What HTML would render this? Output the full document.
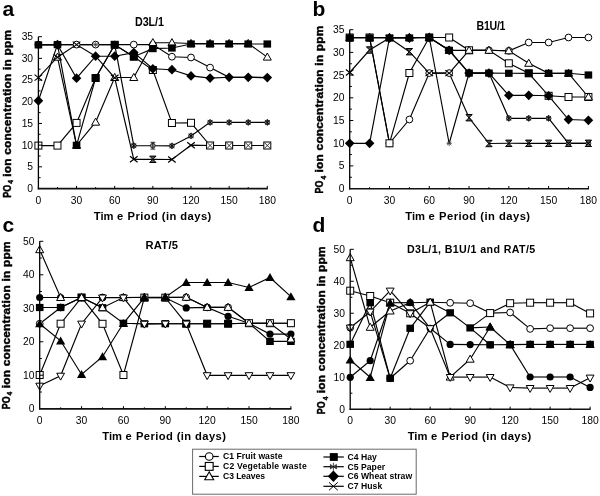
<!DOCTYPE html><html><head><meta charset="utf-8"><style>html,body{margin:0;padding:0;background:#fff;width:600px;height:496px;overflow:hidden}svg{display:block;filter:grayscale(1)}text{font-family:"Liberation Sans", sans-serif;fill:#000}</style></head><body><svg width="600" height="496" viewBox="0 0 600 496"><rect width="600" height="496" fill="#fff"/><text transform="translate(2.6 15.6) scale(1.0 1)" font-size="21" font-weight="bold" text-anchor="start">a</text><text transform="translate(312.6 16) scale(1.0 1)" font-size="21" font-weight="bold" text-anchor="start">b</text><text transform="translate(2.6 232.4) scale(1.0 1)" font-size="21" font-weight="bold" text-anchor="start">c</text><text transform="translate(312.6 232.4) scale(1.0 1)" font-size="21" font-weight="bold" text-anchor="start">d</text><text transform="translate(135 26) scale(0.88 1)" font-size="12.2" font-weight="bold" text-anchor="start" textLength="32.95" lengthAdjust="spacing">D3L/1</text><text transform="translate(476.5 30.2) scale(0.88 1)" font-size="12" font-weight="bold" text-anchor="start" textLength="32.95" lengthAdjust="spacing">B1U/1</text><text transform="translate(145.5 248.5) scale(0.95 1)" font-size="11.8" font-weight="bold" text-anchor="start" textLength="34.21" lengthAdjust="spacing">RAT/5</text><text transform="translate(407 253.4) scale(0.92 1)" font-size="11.6" font-weight="bold" text-anchor="start" textLength="139.46" lengthAdjust="spacing">D3L/1, B1U/1 and RAT/5</text><text transform="translate(93.8 219.5) scale(0.95 1)" font-size="11.8" font-weight="bold">Tim</text><text transform="translate(117.1 219.5) scale(0.95 1)" font-size="11.8" font-weight="bold">e</text><text transform="translate(127.5 219.5) scale(0.95 1)" font-size="11.8" font-weight="bold" textLength="88.21" lengthAdjust="spacing">Priod (in days)</text><text transform="translate(405.3 220) scale(0.95 1)" font-size="11.8" font-weight="bold">Tim</text><text transform="translate(428.6 220) scale(0.95 1)" font-size="11.8" font-weight="bold">e</text><text transform="translate(439 220) scale(0.95 1)" font-size="11.8" font-weight="bold" textLength="95.89" lengthAdjust="spacing">Period (in days)</text><text transform="translate(102.3 440.3) scale(0.95 1)" font-size="11.8" font-weight="bold">Tim</text><text transform="translate(125.6 440.3) scale(0.95 1)" font-size="11.8" font-weight="bold">e</text><text transform="translate(136 440.3) scale(0.95 1)" font-size="11.8" font-weight="bold" textLength="94.63" lengthAdjust="spacing">Period (in days)</text><text transform="translate(407.7 440.3) scale(0.95 1)" font-size="11.8" font-weight="bold">Tim</text><text transform="translate(431 440.3) scale(0.95 1)" font-size="11.8" font-weight="bold">e</text><text transform="translate(441.4 440.3) scale(0.95 1)" font-size="11.8" font-weight="bold" textLength="94.63" lengthAdjust="spacing">Period (in days)</text><text transform="translate(10.6 197.7) rotate(-90) scale(0.76 1)" font-size="11.8" font-weight="bold" stroke="#000" stroke-width="0.45">PO</text><text transform="translate(13.2 183.8) rotate(-90) scale(0.9 1)" font-size="7.4" font-weight="bold" stroke="#000" stroke-width="0.45">4</text><text transform="translate(10.6 176.7) rotate(-90)" font-size="11.8" font-weight="bold" stroke="#000" stroke-width="0.45" textLength="146.7" lengthAdjust="spacing">ion concentration in ppm</text><text transform="translate(323 193.4) rotate(-90) scale(0.76 1)" font-size="11.8" font-weight="bold" stroke="#000" stroke-width="0.45">PO</text><text transform="translate(325.6 179.5) rotate(-90) scale(0.9 1)" font-size="7.4" font-weight="bold" stroke="#000" stroke-width="0.45">4</text><text transform="translate(323 172.4) rotate(-90)" font-size="11.8" font-weight="bold" stroke="#000" stroke-width="0.45" textLength="146.7" lengthAdjust="spacing">ion concentration in ppm</text><text transform="translate(9.7 409.3) rotate(-90) scale(0.76 1)" font-size="11.8" font-weight="bold" stroke="#000" stroke-width="0.45">PO</text><text transform="translate(12.3 395.4) rotate(-90) scale(0.9 1)" font-size="7.4" font-weight="bold" stroke="#000" stroke-width="0.45">4</text><text transform="translate(9.7 388.3) rotate(-90)" font-size="11.8" font-weight="bold" stroke="#000" stroke-width="0.45" textLength="146.7" lengthAdjust="spacing">ion concentration in ppm</text><text transform="translate(325.2 414.2) rotate(-90) scale(0.76 1)" font-size="11.8" font-weight="bold" stroke="#000" stroke-width="0.45">PO</text><text transform="translate(327.8 400.3) rotate(-90) scale(0.9 1)" font-size="7.4" font-weight="bold" stroke="#000" stroke-width="0.45">4</text><text transform="translate(325.2 393.2) rotate(-90)" font-size="11.8" font-weight="bold" stroke="#000" stroke-width="0.45" textLength="146.7" lengthAdjust="spacing">ion concentration in ppm</text><text x="33.1" y="191.9" text-anchor="end" font-size="10.3">0</text><text x="33.1" y="170.21" text-anchor="end" font-size="10.3">5</text><text x="33.1" y="148.53" text-anchor="end" font-size="10.3">10</text><text x="33.1" y="126.84" text-anchor="end" font-size="10.3">15</text><text x="33.1" y="105.16" text-anchor="end" font-size="10.3">20</text><text x="33.1" y="83.47" text-anchor="end" font-size="10.3">25</text><text x="33.1" y="61.79" text-anchor="end" font-size="10.3">30</text><text x="33.1" y="40.1" text-anchor="end" font-size="10.3">35</text><text x="38.4" y="203.5" text-anchor="middle" font-size="10.3">0</text><text x="76.55" y="203.5" text-anchor="middle" font-size="10.3">30</text><text x="114.7" y="203.5" text-anchor="middle" font-size="10.3">60</text><text x="152.85" y="203.5" text-anchor="middle" font-size="10.3">90</text><text x="191" y="203.5" text-anchor="middle" font-size="10.3">120</text><text x="229.15" y="203.5" text-anchor="middle" font-size="10.3">150</text><text x="267.3" y="203.5" text-anchor="middle" font-size="10.3">180</text><polyline points="38.4,44.6 57.47,44.6 76.55,44.6 95.62,44.6 114.7,44.6 133.78,44.6 152.85,44.6 171.93,56.7 191,57.5 210.08,67.6 229.15,77.3 248.23,77.3 267.3,77.6" fill="none" stroke="#000" stroke-width="1.15"/><polyline points="38.4,145.6 57.47,145.6 76.55,122.9 95.62,78 114.7,44.8 133.78,56.7 152.85,70 171.93,123 191,122.8 210.08,145.5 229.15,145.5 248.23,145.5 267.3,145.5" fill="none" stroke="#000" stroke-width="1.15"/><polyline points="57.47,57.2 76.55,145.3 95.62,122.2 114.7,77.5 133.78,77.5 152.85,42.7 171.93,42.7 191,43.5 210.08,43.5 229.15,43.5 248.23,43.5 267.3,57.1" fill="none" stroke="#000" stroke-width="1.15"/><polyline points="38.4,44.9 57.47,44.6 76.55,145.3 95.62,78 114.7,44.8 133.78,56.7 152.85,48.6 171.93,48 191,44 210.08,44 229.15,44 248.23,44 267.3,44" fill="none" stroke="#000" stroke-width="1.15"/><polyline points="38.4,44.6 57.47,44.6 76.55,44.6 95.62,44.6 114.7,44.6 133.78,145.7 152.85,145.7 171.93,145.9 191,135.9 210.08,122.4 229.15,122.4 248.23,122.4 267.3,122.4" fill="none" stroke="#000" stroke-width="1.15"/><polyline points="38.4,100.75 57.47,44.6 76.55,78.2 95.62,56.2 114.7,56.2 133.78,52.6 152.85,68.8 171.93,69.7 191,75.9 210.08,78.1 229.15,77.3 248.23,77.3 267.3,77.6" fill="none" stroke="#000" stroke-width="1.15"/><polyline points="38.4,77.6 57.47,57.2 76.55,44.6 95.62,56.2 114.7,77.8 133.78,159.3 152.85,159.3 171.93,159.5 191,145.2 210.08,145.5 229.15,145.5 248.23,145.5 267.3,145.5" fill="none" stroke="#000" stroke-width="1.15"/><circle cx="38.4" cy="44.6" r="3.4" fill="#fff" stroke="#000" stroke-width="1"/><circle cx="57.47" cy="44.6" r="3.4" fill="#fff" stroke="#000" stroke-width="1"/><circle cx="76.55" cy="44.6" r="3.4" fill="#fff" stroke="#000" stroke-width="1"/><circle cx="95.62" cy="44.6" r="3.4" fill="#fff" stroke="#000" stroke-width="1"/><circle cx="114.7" cy="44.6" r="3.4" fill="#fff" stroke="#000" stroke-width="1"/><circle cx="133.78" cy="44.6" r="3.4" fill="#fff" stroke="#000" stroke-width="1"/><circle cx="152.85" cy="44.6" r="3.4" fill="#fff" stroke="#000" stroke-width="1"/><circle cx="171.93" cy="56.7" r="3.4" fill="#fff" stroke="#000" stroke-width="1"/><circle cx="191" cy="57.5" r="3.4" fill="#fff" stroke="#000" stroke-width="1"/><circle cx="210.08" cy="67.6" r="3.4" fill="#fff" stroke="#000" stroke-width="1"/><rect x="34.9" y="142.1" width="7" height="7" fill="#fff" stroke="#000" stroke-width="1"/><rect x="53.97" y="142.1" width="7" height="7" fill="#fff" stroke="#000" stroke-width="1"/><rect x="73.05" y="119.4" width="7" height="7" fill="#fff" stroke="#000" stroke-width="1"/><rect x="92.12" y="74.5" width="7" height="7" fill="#fff" stroke="#000" stroke-width="1"/><rect x="111.2" y="41.3" width="7" height="7" fill="#fff" stroke="#000" stroke-width="1"/><rect x="130.28" y="53.2" width="7" height="7" fill="#fff" stroke="#000" stroke-width="1"/><rect x="149.35" y="66.5" width="7" height="7" fill="#fff" stroke="#000" stroke-width="1"/><rect x="168.43" y="119.5" width="7" height="7" fill="#fff" stroke="#000" stroke-width="1"/><rect x="187.5" y="119.3" width="7" height="7" fill="#fff" stroke="#000" stroke-width="1"/><rect x="206.58" y="142" width="7" height="7" fill="#fff" stroke="#000" stroke-width="1"/><rect x="225.65" y="142" width="7" height="7" fill="#fff" stroke="#000" stroke-width="1"/><rect x="244.73" y="142" width="7" height="7" fill="#fff" stroke="#000" stroke-width="1"/><rect x="263.8" y="142" width="7" height="7" fill="#fff" stroke="#000" stroke-width="1"/><path d="M57.47 53.1L61.47 60.2L53.47 60.2Z" fill="#fff" stroke="#000" stroke-width="1"/><path d="M76.55 141.2L80.55 148.3L72.55 148.3Z" fill="#fff" stroke="#000" stroke-width="1"/><path d="M95.62 118.1L99.62 125.2L91.62 125.2Z" fill="#fff" stroke="#000" stroke-width="1"/><path d="M114.7 73.4L118.7 80.5L110.7 80.5Z" fill="#fff" stroke="#000" stroke-width="1"/><path d="M133.78 73.4L137.78 80.5L129.78 80.5Z" fill="#fff" stroke="#000" stroke-width="1"/><path d="M152.85 38.6L156.85 45.7L148.85 45.7Z" fill="#fff" stroke="#000" stroke-width="1"/><path d="M171.93 38.6L175.93 45.7L167.93 45.7Z" fill="#fff" stroke="#000" stroke-width="1"/><path d="M191 39.4L195 46.5L187 46.5Z" fill="#fff" stroke="#000" stroke-width="1"/><path d="M210.08 39.4L214.08 46.5L206.08 46.5Z" fill="#fff" stroke="#000" stroke-width="1"/><path d="M229.15 39.4L233.15 46.5L225.15 46.5Z" fill="#fff" stroke="#000" stroke-width="1"/><path d="M248.23 39.4L252.23 46.5L244.23 46.5Z" fill="#fff" stroke="#000" stroke-width="1"/><path d="M267.3 53L271.3 60.1L263.3 60.1Z" fill="#fff" stroke="#000" stroke-width="1"/><rect x="34.6" y="41.3" width="7.6" height="7.2" fill="#000"/><rect x="53.67" y="41" width="7.6" height="7.2" fill="#000"/><rect x="72.75" y="141.7" width="7.6" height="7.2" fill="#000"/><rect x="91.83" y="74.4" width="7.6" height="7.2" fill="#000"/><rect x="110.9" y="41.2" width="7.6" height="7.2" fill="#000"/><rect x="129.97" y="53.1" width="7.6" height="7.2" fill="#000"/><rect x="149.05" y="45" width="7.6" height="7.2" fill="#000"/><rect x="168.12" y="44.4" width="7.6" height="7.2" fill="#000"/><rect x="187.2" y="40.4" width="7.6" height="7.2" fill="#000"/><rect x="206.28" y="40.4" width="7.6" height="7.2" fill="#000"/><rect x="225.35" y="40.4" width="7.6" height="7.2" fill="#000"/><rect x="244.43" y="40.4" width="7.6" height="7.2" fill="#000"/><rect x="263.5" y="40.4" width="7.6" height="7.2" fill="#000"/><path d="M95.62 42V47.2M93.42 43L97.83 46.2M93.42 46.2L97.83 43M93.03 44.6H98.22" stroke="#444" stroke-width="0.8" fill="none"/><circle cx="133.78" cy="145.7" r="2.4" fill="#999" stroke="#111" stroke-width="0.8"/><path d="M133.78 142.5V148.9M131.38 143.7L136.18 147.7M131.38 147.7L136.18 143.7" stroke="#000" stroke-width="0.9" fill="none"/><circle cx="152.85" cy="145.7" r="2.4" fill="#999" stroke="#111" stroke-width="0.8"/><path d="M152.85 142.3V149.1M150.45 142.3H155.25M150.45 149.1H155.25" stroke="#111" stroke-width="0.9" fill="none"/><circle cx="171.93" cy="145.9" r="2.4" fill="#999" stroke="#111" stroke-width="0.8"/><path d="M171.93 142.7V149.1M169.53 143.9L174.33 147.9M169.53 147.9L174.33 143.9" stroke="#000" stroke-width="0.9" fill="none"/><circle cx="191" cy="135.9" r="2.4" fill="#999" stroke="#111" stroke-width="0.8"/><path d="M191 132.7V139.1M188.6 133.9L193.4 137.9M188.6 137.9L193.4 133.9" stroke="#000" stroke-width="0.9" fill="none"/><circle cx="210.08" cy="122.4" r="2.4" fill="#999" stroke="#111" stroke-width="0.8"/><path d="M210.08 119.2V125.6M207.68 120.4L212.48 124.4M207.68 124.4L212.48 120.4" stroke="#000" stroke-width="0.9" fill="none"/><circle cx="229.15" cy="122.4" r="2.4" fill="#999" stroke="#111" stroke-width="0.8"/><path d="M229.15 119.2V125.6M226.75 120.4L231.55 124.4M226.75 124.4L231.55 120.4" stroke="#000" stroke-width="0.9" fill="none"/><circle cx="248.23" cy="122.4" r="2.4" fill="#999" stroke="#111" stroke-width="0.8"/><path d="M248.23 119.2V125.6M245.83 120.4L250.63 124.4M245.83 124.4L250.63 120.4" stroke="#000" stroke-width="0.9" fill="none"/><circle cx="267.3" cy="122.4" r="2.4" fill="#999" stroke="#111" stroke-width="0.8"/><path d="M267.3 119.2V125.6M264.9 120.4L269.7 124.4M264.9 124.4L269.7 120.4" stroke="#000" stroke-width="0.9" fill="none"/><path d="M38.4 95.85L43.2 100.75L38.4 105.65L33.6 100.75Z" fill="#000"/><path d="M57.47 39.7L62.27 44.6L57.47 49.5L52.67 44.6Z" fill="#000"/><path d="M76.55 73.3L81.35 78.2L76.55 83.1L71.75 78.2Z" fill="#000"/><path d="M95.62 51.3L100.42 56.2L95.62 61.1L90.83 56.2Z" fill="#000"/><path d="M114.7 51.3L119.5 56.2L114.7 61.1L109.9 56.2Z" fill="#000"/><path d="M133.78 47.7L138.58 52.6L133.78 57.5L128.97 52.6Z" fill="#000"/><path d="M152.85 63.9L157.65 68.8L152.85 73.7L148.05 68.8Z" fill="#000"/><path d="M171.93 64.8L176.73 69.7L171.93 74.6L167.12 69.7Z" fill="#000"/><path d="M191 71L195.8 75.9L191 80.8L186.2 75.9Z" fill="#000"/><path d="M210.08 73.2L214.88 78.1L210.08 83L205.28 78.1Z" fill="#000"/><path d="M229.15 72.4L233.95 77.3L229.15 82.2L224.35 77.3Z" fill="#000"/><path d="M248.23 72.4L253.03 77.3L248.23 82.2L243.43 77.3Z" fill="#000"/><path d="M267.3 72.7L272.1 77.6L267.3 82.5L262.5 77.6Z" fill="#000"/><path d="M34.6 74.6L42.2 80.6M34.6 80.6L42.2 74.6" stroke="#000" stroke-width="1.2" fill="none"/><path d="M53.67 54.2L61.27 60.2M53.67 60.2L61.27 54.2" stroke="#000" stroke-width="1.2" fill="none"/><path d="M72.75 41.6L80.35 47.6M72.75 47.6L80.35 41.6" stroke="#000" stroke-width="1.2" fill="none"/><path d="M110.9 74.8L118.5 80.8M110.9 80.8L118.5 74.8" stroke="#000" stroke-width="1.2" fill="none"/><path d="M129.97 156.3L137.58 162.3M129.97 162.3L137.58 156.3" stroke="#000" stroke-width="1.2" fill="none"/><path d="M149.65 156.1H156.05L152.85 159.3ZM149.65 162.5H156.05L152.85 159.3Z" stroke="#000" stroke-width="1" fill="#555" stroke-linejoin="round"/><path d="M168.12 156.5L175.73 162.5M168.12 162.5L175.73 156.5" stroke="#000" stroke-width="1.2" fill="none"/><path d="M187.2 142.2L194.8 148.2M187.2 148.2L194.8 142.2" stroke="#000" stroke-width="1.2" fill="none"/><path d="M207.08 142.5L213.08 148.5M207.08 148.5L213.08 142.5" stroke="#222" stroke-width="0.9" fill="none"/><path d="M226.15 142.5L232.15 148.5M226.15 148.5L232.15 142.5" stroke="#222" stroke-width="0.9" fill="none"/><path d="M245.23 142.5L251.23 148.5M245.23 148.5L251.23 142.5" stroke="#222" stroke-width="0.9" fill="none"/><path d="M264.3 142.5L270.3 148.5M264.3 148.5L270.3 142.5" stroke="#222" stroke-width="0.9" fill="none"/><path d="M38.4 36.7V189.3" fill="none" stroke="#000" stroke-width="1.3"/><path d="M37.75 188.6H267.8" fill="none" stroke="#111" stroke-width="1.6"/><path d="M38.4 177.66H40.6" stroke="#000" stroke-width="1"/><path d="M38.4 166.81H42" stroke="#000" stroke-width="1"/><path d="M38.4 155.97H40.6" stroke="#000" stroke-width="1"/><path d="M38.4 145.13H42" stroke="#000" stroke-width="1"/><path d="M38.4 134.29H40.6" stroke="#000" stroke-width="1"/><path d="M38.4 123.44H42" stroke="#000" stroke-width="1"/><path d="M38.4 112.6H40.6" stroke="#000" stroke-width="1"/><path d="M38.4 101.76H42" stroke="#000" stroke-width="1"/><path d="M38.4 90.91H40.6" stroke="#000" stroke-width="1"/><path d="M38.4 80.07H42" stroke="#000" stroke-width="1"/><path d="M38.4 69.23H40.6" stroke="#000" stroke-width="1"/><path d="M38.4 58.39H42" stroke="#000" stroke-width="1"/><path d="M38.4 47.54H40.6" stroke="#000" stroke-width="1"/><path d="M38.4 36.7H42" stroke="#000" stroke-width="1"/><path d="M57.47 188.5V187.1" stroke="#000" stroke-width="1"/><path d="M76.55 188.5V185.9" stroke="#000" stroke-width="1"/><path d="M95.62 188.5V187.1" stroke="#000" stroke-width="1"/><path d="M114.7 188.5V185.9" stroke="#000" stroke-width="1"/><path d="M133.78 188.5V187.1" stroke="#000" stroke-width="1"/><path d="M152.85 188.5V185.9" stroke="#000" stroke-width="1"/><path d="M171.93 188.5V187.1" stroke="#000" stroke-width="1"/><path d="M191 188.5V185.9" stroke="#000" stroke-width="1"/><path d="M210.08 188.5V187.1" stroke="#000" stroke-width="1"/><path d="M229.15 188.5V185.9" stroke="#000" stroke-width="1"/><path d="M248.23 188.5V187.1" stroke="#000" stroke-width="1"/><path d="M267.3 188.5V185.9" stroke="#000" stroke-width="1"/><text x="344.4" y="192" text-anchor="end" font-size="10.3">0</text><text x="344.4" y="169.3" text-anchor="end" font-size="10.3">5</text><text x="344.4" y="146.6" text-anchor="end" font-size="10.3">10</text><text x="344.4" y="123.9" text-anchor="end" font-size="10.3">15</text><text x="344.4" y="101.2" text-anchor="end" font-size="10.3">20</text><text x="344.4" y="78.5" text-anchor="end" font-size="10.3">25</text><text x="344.4" y="55.8" text-anchor="end" font-size="10.3">30</text><text x="344.4" y="33.1" text-anchor="end" font-size="10.3">35</text><text x="349.7" y="203.6" text-anchor="middle" font-size="10.3">0</text><text x="389.48" y="203.6" text-anchor="middle" font-size="10.3">30</text><text x="429.27" y="203.6" text-anchor="middle" font-size="10.3">60</text><text x="469.05" y="203.6" text-anchor="middle" font-size="10.3">90</text><text x="508.83" y="203.6" text-anchor="middle" font-size="10.3">120</text><text x="548.62" y="203.6" text-anchor="middle" font-size="10.3">150</text><text x="588.4" y="203.6" text-anchor="middle" font-size="10.3">180</text><polyline points="349.7,37.5 369.59,37.5 389.48,143.3 409.38,119.5 429.27,73.1 449.16,73.1 469.05,50.3 488.94,50.3 508.83,50.8 528.72,42.5 548.62,42.5 568.51,37.5 588.4,37.5" fill="none" stroke="#000" stroke-width="1.15"/><polyline points="349.7,37.5 369.59,37.5 389.48,143.3 409.38,73 429.27,37.5 449.16,37.5 469.05,50.3 488.94,50.3 508.83,63.3 528.72,73.3 548.62,95.8 568.51,97 588.4,97" fill="none" stroke="#000" stroke-width="1.15"/><polyline points="349.7,37.5 369.59,37.5 389.48,37.5 409.38,37.5 429.27,37.5 449.16,50.3 469.05,50.3 488.94,50.3 508.83,50.8 528.72,63.3 548.62,73.3 568.51,73.3 588.4,97" fill="none" stroke="#000" stroke-width="1.15"/><polyline points="349.7,38 369.59,38 389.48,38 409.38,38 429.27,37.5 449.16,50.3 469.05,73.1 488.94,73.1 508.83,73.3 528.72,73.3 548.62,73.3 568.51,73.3 588.4,75" fill="none" stroke="#000" stroke-width="1.15"/><polyline points="349.7,37.5 369.59,37.5 389.48,37.5 409.38,37.5 429.27,37.5 449.16,143.5 469.05,73.1 488.94,73.1 508.83,118.3 528.72,118.3 548.62,118.3 568.51,143.3 588.4,143.3" fill="none" stroke="#000" stroke-width="1.15"/><polyline points="349.7,143.3 369.59,143.3 389.48,38 409.38,38 429.27,37.5 449.16,50.3 469.05,73.1 488.94,73.1 508.83,95.3 528.72,95.3 548.62,95.8 568.51,119.5 588.4,120.3" fill="none" stroke="#000" stroke-width="1.15"/><polyline points="349.7,72.5 369.59,50 389.48,38 409.38,51.7 429.27,73.1 449.16,73.1 469.05,117.7 488.94,143.5 508.83,143.3 528.72,143.3 548.62,143.3 568.51,143.3 588.4,143.3" fill="none" stroke="#000" stroke-width="1.15"/><circle cx="349.7" cy="37.5" r="3.4" fill="#fff" stroke="#000" stroke-width="1"/><circle cx="369.59" cy="37.5" r="3.4" fill="#fff" stroke="#000" stroke-width="1"/><circle cx="389.48" cy="143.3" r="3.4" fill="#fff" stroke="#000" stroke-width="1"/><circle cx="409.38" cy="119.5" r="3.4" fill="#fff" stroke="#000" stroke-width="1"/><circle cx="429.27" cy="73.1" r="3.4" fill="#fff" stroke="#000" stroke-width="1"/><circle cx="449.16" cy="73.1" r="3.4" fill="#fff" stroke="#000" stroke-width="1"/><circle cx="469.05" cy="50.3" r="3.4" fill="#fff" stroke="#000" stroke-width="1"/><circle cx="488.94" cy="50.3" r="3.4" fill="#fff" stroke="#000" stroke-width="1"/><circle cx="508.83" cy="50.8" r="3.4" fill="#fff" stroke="#000" stroke-width="1"/><circle cx="528.72" cy="42.5" r="3.4" fill="#fff" stroke="#000" stroke-width="1"/><circle cx="548.62" cy="42.5" r="3.4" fill="#fff" stroke="#000" stroke-width="1"/><circle cx="568.51" cy="37.5" r="3.4" fill="#fff" stroke="#000" stroke-width="1"/><circle cx="588.4" cy="37.5" r="3.4" fill="#fff" stroke="#000" stroke-width="1"/><rect x="346.2" y="34" width="7" height="7" fill="#fff" stroke="#000" stroke-width="1"/><rect x="366.09" y="34" width="7" height="7" fill="#fff" stroke="#000" stroke-width="1"/><rect x="385.98" y="139.8" width="7" height="7" fill="#fff" stroke="#000" stroke-width="1"/><rect x="405.88" y="69.5" width="7" height="7" fill="#fff" stroke="#000" stroke-width="1"/><rect x="425.77" y="34" width="7" height="7" fill="#fff" stroke="#000" stroke-width="1"/><rect x="445.66" y="34" width="7" height="7" fill="#fff" stroke="#000" stroke-width="1"/><rect x="465.55" y="46.8" width="7" height="7" fill="#fff" stroke="#000" stroke-width="1"/><rect x="505.33" y="59.8" width="7" height="7" fill="#fff" stroke="#000" stroke-width="1"/><rect x="525.22" y="69.8" width="7" height="7" fill="#fff" stroke="#000" stroke-width="1"/><rect x="545.12" y="92.3" width="7" height="7" fill="#fff" stroke="#000" stroke-width="1"/><rect x="565.01" y="93.5" width="7" height="7" fill="#fff" stroke="#000" stroke-width="1"/><rect x="584.9" y="93.5" width="7" height="7" fill="#fff" stroke="#000" stroke-width="1"/><path d="M349.7 33.4L353.7 40.5L345.7 40.5Z" fill="#fff" stroke="#000" stroke-width="1"/><path d="M369.59 33.4L373.59 40.5L365.59 40.5Z" fill="#fff" stroke="#000" stroke-width="1"/><path d="M389.48 33.4L393.48 40.5L385.48 40.5Z" fill="#fff" stroke="#000" stroke-width="1"/><path d="M409.38 33.4L413.38 40.5L405.38 40.5Z" fill="#fff" stroke="#000" stroke-width="1"/><path d="M429.27 33.4L433.27 40.5L425.27 40.5Z" fill="#fff" stroke="#000" stroke-width="1"/><path d="M449.16 46.2L453.16 53.3L445.16 53.3Z" fill="#fff" stroke="#000" stroke-width="1"/><path d="M469.05 46.2L473.05 53.3L465.05 53.3Z" fill="#fff" stroke="#000" stroke-width="1"/><path d="M488.94 46.2L492.94 53.3L484.94 53.3Z" fill="#fff" stroke="#000" stroke-width="1"/><path d="M508.83 46.7L512.83 53.8L504.83 53.8Z" fill="#fff" stroke="#000" stroke-width="1"/><path d="M528.72 59.2L532.72 66.3L524.72 66.3Z" fill="#fff" stroke="#000" stroke-width="1"/><path d="M548.62 69.2L552.62 76.3L544.62 76.3Z" fill="#fff" stroke="#000" stroke-width="1"/><path d="M568.51 69.2L572.51 76.3L564.51 76.3Z" fill="#fff" stroke="#000" stroke-width="1"/><path d="M588.4 92.9L592.4 100L584.4 100Z" fill="#fff" stroke="#000" stroke-width="1"/><rect x="345.9" y="34.4" width="7.6" height="7.2" fill="#000"/><rect x="365.79" y="34.4" width="7.6" height="7.2" fill="#000"/><rect x="385.68" y="34.4" width="7.6" height="7.2" fill="#000"/><rect x="405.57" y="34.4" width="7.6" height="7.2" fill="#000"/><rect x="425.47" y="33.9" width="7.6" height="7.2" fill="#000"/><rect x="445.36" y="46.7" width="7.6" height="7.2" fill="#000"/><rect x="465.25" y="69.5" width="7.6" height="7.2" fill="#000"/><rect x="485.14" y="69.5" width="7.6" height="7.2" fill="#000"/><rect x="505.03" y="69.7" width="7.6" height="7.2" fill="#000"/><rect x="524.92" y="69.7" width="7.6" height="7.2" fill="#000"/><rect x="544.82" y="69.7" width="7.6" height="7.2" fill="#000"/><rect x="564.71" y="69.7" width="7.6" height="7.2" fill="#000"/><rect x="584.6" y="71.4" width="7.6" height="7.2" fill="#000"/><path d="M449.16 140.9V146.1M446.96 141.9L451.36 145.1M446.96 145.1L451.36 141.9M446.56 143.5H451.76" stroke="#444" stroke-width="0.8" fill="none"/><circle cx="469.05" cy="73.1" r="2.4" fill="#999" stroke="#111" stroke-width="0.8"/><path d="M469.05 69.9V76.3M466.65 71.1L471.45 75.1M466.65 75.1L471.45 71.1" stroke="#000" stroke-width="0.9" fill="none"/><circle cx="488.94" cy="73.1" r="2.4" fill="#999" stroke="#111" stroke-width="0.8"/><path d="M488.94 69.9V76.3M486.54 71.1L491.34 75.1M486.54 75.1L491.34 71.1" stroke="#000" stroke-width="0.9" fill="none"/><circle cx="508.83" cy="118.3" r="2.4" fill="#999" stroke="#111" stroke-width="0.8"/><path d="M508.83 115.1V121.5M506.43 116.3L511.23 120.3M506.43 120.3L511.23 116.3" stroke="#000" stroke-width="0.9" fill="none"/><circle cx="528.72" cy="118.3" r="2.4" fill="#999" stroke="#111" stroke-width="0.8"/><path d="M528.72 115.1V121.5M526.32 116.3L531.12 120.3M526.32 120.3L531.12 116.3" stroke="#000" stroke-width="0.9" fill="none"/><circle cx="548.62" cy="118.3" r="2.4" fill="#999" stroke="#111" stroke-width="0.8"/><path d="M548.62 115.1V121.5M546.22 116.3L551.02 120.3M546.22 120.3L551.02 116.3" stroke="#000" stroke-width="0.9" fill="none"/><circle cx="568.51" cy="143.3" r="2.4" fill="#999" stroke="#111" stroke-width="0.8"/><path d="M568.51 140.1V146.5M566.11 141.3L570.91 145.3M566.11 145.3L570.91 141.3" stroke="#000" stroke-width="0.9" fill="none"/><circle cx="588.4" cy="143.3" r="2.4" fill="#999" stroke="#111" stroke-width="0.8"/><path d="M588.4 140.1V146.5M586 141.3L590.8 145.3M586 145.3L590.8 141.3" stroke="#000" stroke-width="0.9" fill="none"/><path d="M349.7 138.4L354.5 143.3L349.7 148.2L344.9 143.3Z" fill="#000"/><path d="M369.59 138.4L374.39 143.3L369.59 148.2L364.79 143.3Z" fill="#000"/><path d="M389.48 33.1L394.28 38L389.48 42.9L384.68 38Z" fill="#000"/><path d="M409.38 33.1L414.18 38L409.38 42.9L404.57 38Z" fill="#000"/><path d="M429.27 32.6L434.07 37.5L429.27 42.4L424.47 37.5Z" fill="#000"/><path d="M449.16 45.4L453.96 50.3L449.16 55.2L444.36 50.3Z" fill="#000"/><path d="M469.05 68.2L473.85 73.1L469.05 78L464.25 73.1Z" fill="#000"/><path d="M488.94 68.2L493.74 73.1L488.94 78L484.14 73.1Z" fill="#000"/><path d="M508.83 90.4L513.63 95.3L508.83 100.2L504.03 95.3Z" fill="#000"/><path d="M528.72 90.4L533.52 95.3L528.72 100.2L523.92 95.3Z" fill="#000"/><path d="M548.62 90.9L553.42 95.8L548.62 100.7L543.82 95.8Z" fill="#000"/><path d="M568.51 114.6L573.31 119.5L568.51 124.4L563.71 119.5Z" fill="#000"/><path d="M588.4 115.4L593.2 120.3L588.4 125.2L583.6 120.3Z" fill="#000"/><path d="M345.9 69.5L353.5 75.5M345.9 75.5L353.5 69.5" stroke="#000" stroke-width="1.2" fill="none"/><path d="M366.39 46.8H372.79L369.59 50ZM366.39 53.2H372.79L369.59 50Z" stroke="#000" stroke-width="1" fill="#555" stroke-linejoin="round"/><path d="M385.68 35L393.28 41M385.68 41L393.28 35" stroke="#000" stroke-width="1.2" fill="none"/><path d="M406.18 48.5H412.57L409.38 51.7ZM406.18 54.9H412.57L409.38 51.7Z" stroke="#000" stroke-width="1" fill="#555" stroke-linejoin="round"/><path d="M425.47 70.1L433.07 76.1M425.47 76.1L433.07 70.1" stroke="#000" stroke-width="1.2" fill="none"/><path d="M445.36 70.1L452.96 76.1M445.36 76.1L452.96 70.1" stroke="#000" stroke-width="1.2" fill="none"/><path d="M465.85 114.5H472.25L469.05 117.7ZM465.85 120.9H472.25L469.05 117.7Z" stroke="#000" stroke-width="1" fill="#555" stroke-linejoin="round"/><path d="M485.74 140.3H492.14L488.94 143.5ZM485.74 146.7H492.14L488.94 143.5Z" stroke="#000" stroke-width="1" fill="#555" stroke-linejoin="round"/><path d="M505.63 140.1H512.03L508.83 143.3ZM505.63 146.5H512.03L508.83 143.3Z" stroke="#000" stroke-width="1" fill="#555" stroke-linejoin="round"/><path d="M525.52 140.1H531.92L528.72 143.3ZM525.52 146.5H531.92L528.72 143.3Z" stroke="#000" stroke-width="1" fill="#555" stroke-linejoin="round"/><path d="M545.42 140.1H551.82L548.62 143.3ZM545.42 146.5H551.82L548.62 143.3Z" stroke="#000" stroke-width="1" fill="#555" stroke-linejoin="round"/><path d="M565.31 140.1H571.71L568.51 143.3ZM565.31 146.5H571.71L568.51 143.3Z" stroke="#000" stroke-width="1" fill="#555" stroke-linejoin="round"/><path d="M585.2 140.1H591.6L588.4 143.3ZM585.2 146.5H591.6L588.4 143.3Z" stroke="#000" stroke-width="1" fill="#555" stroke-linejoin="round"/><path d="M349.7 29.7V189.4" fill="none" stroke="#000" stroke-width="1.3"/><path d="M349.05 188.7H588.9" fill="none" stroke="#111" stroke-width="1.6"/><path d="M349.7 177.25H351.9" stroke="#000" stroke-width="1"/><path d="M349.7 165.9H353.3" stroke="#000" stroke-width="1"/><path d="M349.7 154.55H351.9" stroke="#000" stroke-width="1"/><path d="M349.7 143.2H353.3" stroke="#000" stroke-width="1"/><path d="M349.7 131.85H351.9" stroke="#000" stroke-width="1"/><path d="M349.7 120.5H353.3" stroke="#000" stroke-width="1"/><path d="M349.7 109.15H351.9" stroke="#000" stroke-width="1"/><path d="M349.7 97.8H353.3" stroke="#000" stroke-width="1"/><path d="M349.7 86.45H351.9" stroke="#000" stroke-width="1"/><path d="M349.7 75.1H353.3" stroke="#000" stroke-width="1"/><path d="M349.7 63.75H351.9" stroke="#000" stroke-width="1"/><path d="M349.7 52.4H353.3" stroke="#000" stroke-width="1"/><path d="M349.7 41.05H351.9" stroke="#000" stroke-width="1"/><path d="M349.7 29.7H353.3" stroke="#000" stroke-width="1"/><path d="M369.59 188.6V187.2" stroke="#000" stroke-width="1"/><path d="M389.48 188.6V186" stroke="#000" stroke-width="1"/><path d="M409.38 188.6V187.2" stroke="#000" stroke-width="1"/><path d="M429.27 188.6V186" stroke="#000" stroke-width="1"/><path d="M449.16 188.6V187.2" stroke="#000" stroke-width="1"/><path d="M469.05 188.6V186" stroke="#000" stroke-width="1"/><path d="M488.94 188.6V187.2" stroke="#000" stroke-width="1"/><path d="M508.83 188.6V186" stroke="#000" stroke-width="1"/><path d="M528.72 188.6V187.2" stroke="#000" stroke-width="1"/><path d="M548.62 188.6V186" stroke="#000" stroke-width="1"/><path d="M568.51 188.6V187.2" stroke="#000" stroke-width="1"/><path d="M588.4 188.6V186" stroke="#000" stroke-width="1"/><text x="34.4" y="412.15" text-anchor="end" font-size="10.3">0</text><text x="34.4" y="378.66" text-anchor="end" font-size="10.3">10</text><text x="34.4" y="345.17" text-anchor="end" font-size="10.3">20</text><text x="34.4" y="311.68" text-anchor="end" font-size="10.3">30</text><text x="34.4" y="278.19" text-anchor="end" font-size="10.3">40</text><text x="34.4" y="244.7" text-anchor="end" font-size="10.3">50</text><text x="39.7" y="423.75" text-anchor="middle" font-size="10.3">0</text><text x="81.57" y="423.75" text-anchor="middle" font-size="10.3">30</text><text x="123.43" y="423.75" text-anchor="middle" font-size="10.3">60</text><text x="165.3" y="423.75" text-anchor="middle" font-size="10.3">90</text><text x="207.17" y="423.75" text-anchor="middle" font-size="10.3">120</text><text x="249.03" y="423.75" text-anchor="middle" font-size="10.3">150</text><text x="290.9" y="423.75" text-anchor="middle" font-size="10.3">180</text><polyline points="39.7,323.7 60.63,307.5 81.57,297.5 102.5,297.5 123.43,297.5 144.37,297.5 165.3,297.5 186.23,297.3 207.17,307.4 228.1,307.4 249.03,323.2 269.97,323.2 290.9,323.2" fill="none" stroke="#000" stroke-width="1.15"/><polyline points="39.7,297.5 60.63,297.5 81.57,297.5 102.5,297.5 123.43,297.5 144.37,297.5 165.3,297.7 186.23,307.9 207.17,307.4 228.1,316.3 249.03,323.2 269.97,334.1 290.9,334.1" fill="none" stroke="#000" stroke-width="1.15"/><polyline points="39.7,375 60.63,323.7 81.57,297.5 102.5,323.8 123.43,375 144.37,297.6 165.3,297.7 186.23,323.7 207.17,323.7 228.1,323.7 249.03,323.2 269.97,323.2 290.9,323.2" fill="none" stroke="#000" stroke-width="1.15"/><polyline points="39.7,307.5 60.63,307.5 81.57,297.5 102.5,307.7 123.43,323.3 144.37,323.8 165.3,323.7 186.23,323.7 207.17,323.7 228.1,323.7 249.03,323.2 269.97,341.4 290.9,341.4" fill="none" stroke="#000" stroke-width="1.15"/><polyline points="39.7,249.7 60.63,297.5 81.57,297.5 102.5,307.7 123.43,297.6 144.37,297.2 165.3,297.2 186.23,297.3 207.17,307.4 228.1,307.4 249.03,323.2 269.97,323.2 290.9,339" fill="none" stroke="#000" stroke-width="1.15"/><polyline points="39.7,323.7 60.63,340.8 81.57,374.5 102.5,356.7 123.43,323.3 144.37,297.6 165.3,297.2 186.23,282.5 207.17,282.5 228.1,282.5 249.03,287.5 269.97,277.5 290.9,296.7" fill="none" stroke="#000" stroke-width="1.15"/><polyline points="39.7,385.8 60.63,375.8 81.57,323.7 102.5,297.6 123.43,297.6 144.37,323.8 165.3,323.7 186.23,323.7 207.17,375.3 228.1,375.3 249.03,375.3 269.97,375.3 290.9,375.3" fill="none" stroke="#000" stroke-width="1.15"/><circle cx="39.7" cy="323.7" r="3.4" fill="#fff" stroke="#000" stroke-width="1"/><circle cx="60.63" cy="307.5" r="3.4" fill="#fff" stroke="#000" stroke-width="1"/><circle cx="81.57" cy="297.5" r="3.4" fill="#fff" stroke="#000" stroke-width="1"/><circle cx="102.5" cy="297.5" r="3.4" fill="#fff" stroke="#000" stroke-width="1"/><circle cx="123.43" cy="297.5" r="3.4" fill="#fff" stroke="#000" stroke-width="1"/><circle cx="144.37" cy="297.5" r="3.4" fill="#fff" stroke="#000" stroke-width="1"/><circle cx="165.3" cy="297.5" r="3.4" fill="#fff" stroke="#000" stroke-width="1"/><circle cx="186.23" cy="297.3" r="3.4" fill="#fff" stroke="#000" stroke-width="1"/><circle cx="207.17" cy="307.4" r="3.4" fill="#fff" stroke="#000" stroke-width="1"/><circle cx="228.1" cy="307.4" r="3.4" fill="#fff" stroke="#000" stroke-width="1"/><circle cx="249.03" cy="323.2" r="3.4" fill="#fff" stroke="#000" stroke-width="1"/><circle cx="269.97" cy="323.2" r="3.4" fill="#fff" stroke="#000" stroke-width="1"/><circle cx="290.9" cy="323.2" r="3.4" fill="#fff" stroke="#000" stroke-width="1"/><circle cx="39.7" cy="297.5" r="3.6" fill="#000"/><circle cx="60.63" cy="297.5" r="3.6" fill="#000"/><circle cx="81.57" cy="297.5" r="3.6" fill="#000"/><circle cx="102.5" cy="297.5" r="3.6" fill="#000"/><circle cx="123.43" cy="297.5" r="3.6" fill="#000"/><circle cx="144.37" cy="297.5" r="3.6" fill="#000"/><circle cx="165.3" cy="297.7" r="3.6" fill="#000"/><circle cx="186.23" cy="307.9" r="3.6" fill="#000"/><circle cx="207.17" cy="307.4" r="3.6" fill="#000"/><circle cx="228.1" cy="316.3" r="3.6" fill="#000"/><circle cx="269.97" cy="334.1" r="3.6" fill="#000"/><circle cx="290.9" cy="334.1" r="3.6" fill="#000"/><rect x="36.2" y="371.5" width="7" height="7" fill="#fff" stroke="#000" stroke-width="1"/><rect x="57.13" y="320.2" width="7" height="7" fill="#fff" stroke="#000" stroke-width="1"/><rect x="78.07" y="294" width="7" height="7" fill="#fff" stroke="#000" stroke-width="1"/><rect x="99" y="320.3" width="7" height="7" fill="#fff" stroke="#000" stroke-width="1"/><rect x="119.93" y="371.5" width="7" height="7" fill="#fff" stroke="#000" stroke-width="1"/><rect x="140.87" y="294.1" width="7" height="7" fill="#fff" stroke="#000" stroke-width="1"/><rect x="161.8" y="294.2" width="7" height="7" fill="#fff" stroke="#000" stroke-width="1"/><rect x="182.73" y="320.2" width="7" height="7" fill="#fff" stroke="#000" stroke-width="1"/><rect x="203.67" y="320.2" width="7" height="7" fill="#fff" stroke="#000" stroke-width="1"/><rect x="224.6" y="320.2" width="7" height="7" fill="#fff" stroke="#000" stroke-width="1"/><rect x="245.53" y="319.7" width="7" height="7" fill="#fff" stroke="#000" stroke-width="1"/><rect x="266.47" y="319.7" width="7" height="7" fill="#fff" stroke="#000" stroke-width="1"/><rect x="287.4" y="319.7" width="7" height="7" fill="#fff" stroke="#000" stroke-width="1"/><rect x="35.9" y="303.9" width="7.6" height="7.2" fill="#000"/><rect x="56.83" y="303.9" width="7.6" height="7.2" fill="#000"/><rect x="77.77" y="293.9" width="7.6" height="7.2" fill="#000"/><rect x="98.7" y="304.1" width="7.6" height="7.2" fill="#000"/><rect x="119.63" y="319.7" width="7.6" height="7.2" fill="#000"/><rect x="140.57" y="320.2" width="7.6" height="7.2" fill="#000"/><rect x="161.5" y="320.1" width="7.6" height="7.2" fill="#000"/><rect x="182.43" y="320.1" width="7.6" height="7.2" fill="#000"/><rect x="203.37" y="320.1" width="7.6" height="7.2" fill="#000"/><rect x="224.3" y="320.1" width="7.6" height="7.2" fill="#000"/><rect x="266.17" y="337.8" width="7.6" height="7.2" fill="#000"/><rect x="287.1" y="337.8" width="7.6" height="7.2" fill="#000"/><path d="M39.7 245.6L43.7 252.7L35.7 252.7Z" fill="#fff" stroke="#000" stroke-width="1"/><path d="M60.63 293.4L64.63 300.5L56.63 300.5Z" fill="#fff" stroke="#000" stroke-width="1"/><path d="M81.57 293.4L85.57 300.5L77.57 300.5Z" fill="#fff" stroke="#000" stroke-width="1"/><path d="M102.5 303.6L106.5 310.7L98.5 310.7Z" fill="#fff" stroke="#000" stroke-width="1"/><path d="M123.43 293.5L127.43 300.6L119.43 300.6Z" fill="#fff" stroke="#000" stroke-width="1"/><path d="M144.37 293.1L148.37 300.2L140.37 300.2Z" fill="#fff" stroke="#000" stroke-width="1"/><path d="M165.3 293.1L169.3 300.2L161.3 300.2Z" fill="#fff" stroke="#000" stroke-width="1"/><path d="M186.23 293.2L190.23 300.3L182.23 300.3Z" fill="#fff" stroke="#000" stroke-width="1"/><path d="M207.17 303.3L211.17 310.4L203.17 310.4Z" fill="#fff" stroke="#000" stroke-width="1"/><path d="M228.1 303.3L232.1 310.4L224.1 310.4Z" fill="#fff" stroke="#000" stroke-width="1"/><path d="M249.03 319.1L253.03 326.2L245.03 326.2Z" fill="#fff" stroke="#000" stroke-width="1"/><path d="M269.97 319.1L273.97 326.2L265.97 326.2Z" fill="#fff" stroke="#000" stroke-width="1"/><path d="M290.9 334.9L294.9 342L286.9 342Z" fill="#fff" stroke="#000" stroke-width="1"/><path d="M39.7 319.3L44.3 327.3L35.1 327.3Z" fill="#000"/><path d="M60.63 336.4L65.23 344.4L56.03 344.4Z" fill="#000"/><path d="M81.57 370.1L86.17 378.1L76.97 378.1Z" fill="#000"/><path d="M102.5 352.3L107.1 360.3L97.9 360.3Z" fill="#000"/><path d="M123.43 318.9L128.03 326.9L118.83 326.9Z" fill="#000"/><path d="M144.37 293.2L148.97 301.2L139.77 301.2Z" fill="#000"/><path d="M165.3 292.8L169.9 300.8L160.7 300.8Z" fill="#000"/><path d="M186.23 278.1L190.83 286.1L181.63 286.1Z" fill="#000"/><path d="M207.17 278.1L211.77 286.1L202.57 286.1Z" fill="#000"/><path d="M228.1 278.1L232.7 286.1L223.5 286.1Z" fill="#000"/><path d="M249.03 283.1L253.63 291.1L244.43 291.1Z" fill="#000"/><path d="M269.97 273.1L274.57 281.1L265.37 281.1Z" fill="#000"/><path d="M290.9 292.3L295.5 300.3L286.3 300.3Z" fill="#000"/><path d="M35.8 383.2L43.6 383.2L39.7 390.1Z" fill="#fff" stroke="#000" stroke-width="1"/><path d="M56.73 373.2L64.53 373.2L60.63 380.1Z" fill="#fff" stroke="#000" stroke-width="1"/><path d="M77.67 321.1L85.47 321.1L81.57 328Z" fill="#fff" stroke="#000" stroke-width="1"/><path d="M98.6 295L106.4 295L102.5 301.9Z" fill="#fff" stroke="#000" stroke-width="1"/><path d="M119.53 295L127.33 295L123.43 301.9Z" fill="#fff" stroke="#000" stroke-width="1"/><path d="M140.47 321.2L148.27 321.2L144.37 328.1Z" fill="#fff" stroke="#000" stroke-width="1"/><path d="M161.4 321.1L169.2 321.1L165.3 328Z" fill="#fff" stroke="#000" stroke-width="1"/><path d="M182.33 321.1L190.13 321.1L186.23 328Z" fill="#fff" stroke="#000" stroke-width="1"/><path d="M203.27 372.7L211.07 372.7L207.17 379.6Z" fill="#fff" stroke="#000" stroke-width="1"/><path d="M224.2 372.7L232 372.7L228.1 379.6Z" fill="#fff" stroke="#000" stroke-width="1"/><path d="M245.13 372.7L252.93 372.7L249.03 379.6Z" fill="#fff" stroke="#000" stroke-width="1"/><path d="M266.07 372.7L273.87 372.7L269.97 379.6Z" fill="#fff" stroke="#000" stroke-width="1"/><path d="M287 372.7L294.8 372.7L290.9 379.6Z" fill="#fff" stroke="#000" stroke-width="1"/><path d="M39.7 241.3V409.55" fill="none" stroke="#000" stroke-width="1.3"/><path d="M39.05 408.85H291.4" fill="none" stroke="#111" stroke-width="1.6"/><path d="M39.7 392H41.9" stroke="#000" stroke-width="1"/><path d="M39.7 375.26H43.3" stroke="#000" stroke-width="1"/><path d="M39.7 358.51H41.9" stroke="#000" stroke-width="1"/><path d="M39.7 341.77H43.3" stroke="#000" stroke-width="1"/><path d="M39.7 325.02H41.9" stroke="#000" stroke-width="1"/><path d="M39.7 308.28H43.3" stroke="#000" stroke-width="1"/><path d="M39.7 291.54H41.9" stroke="#000" stroke-width="1"/><path d="M39.7 274.79H43.3" stroke="#000" stroke-width="1"/><path d="M39.7 258.05H41.9" stroke="#000" stroke-width="1"/><path d="M39.7 241.3H43.3" stroke="#000" stroke-width="1"/><path d="M60.63 408.75V407.35" stroke="#000" stroke-width="1"/><path d="M81.57 408.75V406.15" stroke="#000" stroke-width="1"/><path d="M102.5 408.75V407.35" stroke="#000" stroke-width="1"/><path d="M123.43 408.75V406.15" stroke="#000" stroke-width="1"/><path d="M144.37 408.75V407.35" stroke="#000" stroke-width="1"/><path d="M165.3 408.75V406.15" stroke="#000" stroke-width="1"/><path d="M186.23 408.75V407.35" stroke="#000" stroke-width="1"/><path d="M207.17 408.75V406.15" stroke="#000" stroke-width="1"/><path d="M228.1 408.75V407.35" stroke="#000" stroke-width="1"/><path d="M249.03 408.75V406.15" stroke="#000" stroke-width="1"/><path d="M269.97 408.75V407.35" stroke="#000" stroke-width="1"/><path d="M290.9 408.75V406.15" stroke="#000" stroke-width="1"/><text x="344.9" y="412.6" text-anchor="end" font-size="10.3">0</text><text x="344.9" y="380.62" text-anchor="end" font-size="10.3">10</text><text x="344.9" y="348.64" text-anchor="end" font-size="10.3">20</text><text x="344.9" y="316.66" text-anchor="end" font-size="10.3">30</text><text x="344.9" y="284.68" text-anchor="end" font-size="10.3">40</text><text x="344.9" y="252.7" text-anchor="end" font-size="10.3">50</text><text x="350.2" y="424.2" text-anchor="middle" font-size="10.3">0</text><text x="390.18" y="424.2" text-anchor="middle" font-size="10.3">30</text><text x="430.17" y="424.2" text-anchor="middle" font-size="10.3">60</text><text x="470.15" y="424.2" text-anchor="middle" font-size="10.3">90</text><text x="510.13" y="424.2" text-anchor="middle" font-size="10.3">120</text><text x="550.12" y="424.2" text-anchor="middle" font-size="10.3">150</text><text x="590.1" y="424.2" text-anchor="middle" font-size="10.3">180</text><path d="M350.2 257.7L370.19 327.3" stroke="#000" stroke-width="1.15"/><path d="M350.2 290.7L370.19 296" stroke="#000" stroke-width="1.15"/><path d="M350.2 327.7L370.19 311.7" stroke="#000" stroke-width="1.15"/><path d="M350.2 344.3L370.19 302.7" stroke="#000" stroke-width="1.15"/><path d="M350.2 360L370.19 377.3" stroke="#000" stroke-width="1.15"/><path d="M350.2 377.3L370.19 360.7" stroke="#000" stroke-width="1.15"/><path d="M370.19 296L390.18 302.7" stroke="#000" stroke-width="1.15"/><path d="M370.19 302.7L390.18 378.3" stroke="#000" stroke-width="1.15"/><path d="M370.19 311.7L390.18 290.7" stroke="#000" stroke-width="1.15"/><path d="M370.19 311.7L390.18 378.3" stroke="#000" stroke-width="1.15"/><path d="M370.19 327.3L390.18 311" stroke="#000" stroke-width="1.15"/><path d="M370.19 360.7L390.18 302.7" stroke="#000" stroke-width="1.15"/><path d="M370.19 377.3L390.18 302.7" stroke="#000" stroke-width="1.15"/><path d="M390.18 290.7L410.18 313.3" stroke="#000" stroke-width="1.15"/><path d="M390.18 302.7L410.18 302.7" stroke="#000" stroke-width="1.15"/><path d="M390.18 302.7L410.18 313.3" stroke="#000" stroke-width="1.15"/><path d="M390.18 311L410.18 302.7" stroke="#000" stroke-width="1.15"/><path d="M390.18 378.3L410.18 328.3" stroke="#000" stroke-width="1.15"/><path d="M390.18 378.3L410.18 360.7" stroke="#000" stroke-width="1.15"/><path d="M410.18 302.7L430.17 302.2" stroke="#000" stroke-width="1.15"/><path d="M410.18 302.7L430.17 328.3" stroke="#000" stroke-width="1.15"/><path d="M410.18 313.3L430.17 302.2" stroke="#000" stroke-width="1.15"/><path d="M410.18 328.3L430.17 302.2" stroke="#000" stroke-width="1.15"/><path d="M410.18 360.7L430.17 328.3" stroke="#000" stroke-width="1.15"/><path d="M410.18 313.3L430.17 328.3" stroke="#000" stroke-width="1.15"/><path d="M430.17 302.2L450.16 302.8" stroke="#000" stroke-width="1.15"/><path d="M430.17 302.2L450.16 312.8" stroke="#000" stroke-width="1.15"/><path d="M430.17 328.3L450.16 312.8" stroke="#000" stroke-width="1.15"/><path d="M430.17 328.3L450.16 344.4" stroke="#000" stroke-width="1.15"/><path d="M430.17 302.2L450.16 377.1" stroke="#000" stroke-width="1.15"/><path d="M430.17 328.3L450.16 377.1" stroke="#000" stroke-width="1.15"/><path d="M450.16 302.8L470.15 303.2" stroke="#000" stroke-width="1.15"/><path d="M450.16 312.8L470.15 327.9" stroke="#000" stroke-width="1.15"/><path d="M450.16 344.4L470.15 344.6" stroke="#000" stroke-width="1.15"/><path d="M450.16 377.1L470.15 377.1" stroke="#000" stroke-width="1.15"/><path d="M450.16 377.1L470.15 359.2" stroke="#000" stroke-width="1.15"/><path d="M470.15 303.2L490.14 313.1" stroke="#000" stroke-width="1.15"/><path d="M470.15 327.9L490.14 313.1" stroke="#000" stroke-width="1.15"/><path d="M470.15 327.9L490.14 327" stroke="#000" stroke-width="1.15"/><path d="M470.15 327.9L490.14 344.8" stroke="#000" stroke-width="1.15"/><path d="M470.15 344.6L490.14 344.8" stroke="#000" stroke-width="1.15"/><path d="M470.15 359.2L490.14 327" stroke="#000" stroke-width="1.15"/><path d="M470.15 377.1L490.14 377.1" stroke="#000" stroke-width="1.15"/><path d="M490.14 313.1L510.13 303.2" stroke="#000" stroke-width="1.15"/><path d="M490.14 313.1L510.13 312.5" stroke="#000" stroke-width="1.15"/><path d="M490.14 327L510.13 344.6" stroke="#000" stroke-width="1.15"/><path d="M490.14 344.8L510.13 344.6" stroke="#000" stroke-width="1.15"/><path d="M490.14 377.1L510.13 387.5" stroke="#000" stroke-width="1.15"/><path d="M510.13 303.2L530.12 302.7" stroke="#000" stroke-width="1.15"/><path d="M510.13 312.5L530.12 328.9" stroke="#000" stroke-width="1.15"/><path d="M510.13 344.6L530.12 344.4" stroke="#000" stroke-width="1.15"/><path d="M510.13 344.6L530.12 377" stroke="#000" stroke-width="1.15"/><path d="M510.13 387.5L530.12 388.1" stroke="#000" stroke-width="1.15"/><path d="M530.12 302.7L550.12 302.7" stroke="#000" stroke-width="1.15"/><path d="M530.12 328.9L550.12 328.2" stroke="#000" stroke-width="1.15"/><path d="M530.12 344.4L550.12 344.4" stroke="#000" stroke-width="1.15"/><path d="M530.12 377L550.12 377" stroke="#000" stroke-width="1.15"/><path d="M530.12 388.1L550.12 388.1" stroke="#000" stroke-width="1.15"/><path d="M550.12 302.7L570.11 302.7" stroke="#000" stroke-width="1.15"/><path d="M550.12 328.2L570.11 328.2" stroke="#000" stroke-width="1.15"/><path d="M550.12 344.4L570.11 344.4" stroke="#000" stroke-width="1.15"/><path d="M550.12 377L570.11 377" stroke="#000" stroke-width="1.15"/><path d="M550.12 388.1L570.11 388.1" stroke="#000" stroke-width="1.15"/><path d="M570.11 302.7L590.1 313.4" stroke="#000" stroke-width="1.15"/><path d="M570.11 328.2L590.1 328.2" stroke="#000" stroke-width="1.15"/><path d="M570.11 344.4L590.1 344.4" stroke="#000" stroke-width="1.15"/><path d="M570.11 377L590.1 387.4" stroke="#000" stroke-width="1.15"/><path d="M570.11 388.1L590.1 377.7" stroke="#000" stroke-width="1.15"/><circle cx="350.2" cy="327.7" r="3.4" fill="#fff" stroke="#000" stroke-width="1"/><path d="M346.3 325.1L354.1 325.1L350.2 332Z" fill="#fff" stroke="#000" stroke-width="1"/><path d="M350.2 253.6L354.2 260.7L346.2 260.7Z" fill="#fff" stroke="#000" stroke-width="1"/><rect x="346.7" y="287.2" width="7" height="7" fill="#fff" stroke="#000" stroke-width="1"/><rect x="346.4" y="340.7" width="7.6" height="7.2" fill="#000"/><path d="M350.2 355.6L354.8 363.6L345.6 363.6Z" fill="#000"/><circle cx="350.2" cy="377.3" r="3.6" fill="#000"/><rect x="366.69" y="292.5" width="7" height="7" fill="#fff" stroke="#000" stroke-width="1"/><rect x="366.39" y="299.1" width="7.6" height="7.2" fill="#000"/><circle cx="370.19" cy="311.7" r="3.4" fill="#fff" stroke="#000" stroke-width="1"/><path d="M366.29 309.1L374.09 309.1L370.19 316Z" fill="#fff" stroke="#000" stroke-width="1"/><path d="M370.19 323.2L374.19 330.3L366.19 330.3Z" fill="#fff" stroke="#000" stroke-width="1"/><circle cx="370.19" cy="360.7" r="3.6" fill="#000"/><path d="M370.19 372.9L374.79 380.9L365.59 380.9Z" fill="#000"/><circle cx="390.18" cy="302.7" r="3.6" fill="#000"/><rect x="386.68" y="299.2" width="7" height="7" fill="#fff" stroke="#000" stroke-width="1"/><path d="M390.18 298.3L394.78 306.3L385.58 306.3Z" fill="#000"/><path d="M386.28 288.1L394.08 288.1L390.18 295Z" fill="#fff" stroke="#000" stroke-width="1"/><path d="M390.18 306.9L394.18 314L386.18 314Z" fill="#fff" stroke="#000" stroke-width="1"/><circle cx="390.18" cy="378.3" r="3.4" fill="#fff" stroke="#000" stroke-width="1"/><rect x="386.38" y="374.7" width="7.6" height="7.2" fill="#000"/><path d="M410.18 297.8L414.78 305.8L405.57 305.8Z" fill="#000"/><circle cx="410.18" cy="302.7" r="3.6" fill="#000"/><rect x="406.68" y="309.8" width="7" height="7" fill="#fff" stroke="#000" stroke-width="1"/><path d="M406.28 310.7L414.07 310.7L410.18 317.6Z" fill="#fff" stroke="#000" stroke-width="1"/><rect x="406.38" y="324.7" width="7.6" height="7.2" fill="#000"/><circle cx="410.18" cy="360.7" r="3.4" fill="#fff" stroke="#000" stroke-width="1"/><rect x="426.37" y="298.6" width="7.6" height="7.2" fill="#000"/><path d="M430.17 298.1L434.17 305.2L426.17 305.2Z" fill="#fff" stroke="#000" stroke-width="1"/><circle cx="430.17" cy="328.3" r="3.6" fill="#000"/><path d="M426.27 325.7L434.07 325.7L430.17 332.6Z" fill="#fff" stroke="#000" stroke-width="1"/><circle cx="450.16" cy="302.8" r="3.4" fill="#fff" stroke="#000" stroke-width="1"/><rect x="446.36" y="309.2" width="7.6" height="7.2" fill="#000"/><circle cx="450.16" cy="344.4" r="3.6" fill="#000"/><path d="M450.16 373L454.16 380.1L446.16 380.1Z" fill="#fff" stroke="#000" stroke-width="1"/><path d="M446.26 374.5L454.06 374.5L450.16 381.4Z" fill="#fff" stroke="#000" stroke-width="1"/><circle cx="470.15" cy="303.2" r="3.4" fill="#fff" stroke="#000" stroke-width="1"/><rect x="466.35" y="324.3" width="7.6" height="7.2" fill="#000"/><circle cx="470.15" cy="344.6" r="3.6" fill="#000"/><path d="M470.15 355.1L474.15 362.2L466.15 362.2Z" fill="#fff" stroke="#000" stroke-width="1"/><path d="M466.25 374.5L474.05 374.5L470.15 381.4Z" fill="#fff" stroke="#000" stroke-width="1"/><circle cx="490.14" cy="313.1" r="3.4" fill="#fff" stroke="#000" stroke-width="1"/><rect x="486.64" y="309.6" width="7" height="7" fill="#fff" stroke="#000" stroke-width="1"/><path d="M490.14 322.9L494.14 330L486.14 330Z" fill="#fff" stroke="#000" stroke-width="1"/><path d="M490.14 322.6L494.74 330.6L485.54 330.6Z" fill="#000"/><circle cx="490.14" cy="344.8" r="3.6" fill="#000"/><rect x="486.34" y="341.2" width="7.6" height="7.2" fill="#000"/><path d="M486.24 374.5L494.04 374.5L490.14 381.4Z" fill="#fff" stroke="#000" stroke-width="1"/><rect x="506.63" y="299.7" width="7" height="7" fill="#fff" stroke="#000" stroke-width="1"/><circle cx="510.13" cy="312.5" r="3.4" fill="#fff" stroke="#000" stroke-width="1"/><path d="M510.13 340.5L514.13 347.6L506.13 347.6Z" fill="#fff" stroke="#000" stroke-width="1"/><circle cx="510.13" cy="344.6" r="3.6" fill="#000"/><path d="M510.13 340.2L514.73 348.2L505.53 348.2Z" fill="#000"/><rect x="506.33" y="341" width="7.6" height="7.2" fill="#000"/><path d="M506.23 384.9L514.03 384.9L510.13 391.8Z" fill="#fff" stroke="#000" stroke-width="1"/><rect x="526.62" y="299.2" width="7" height="7" fill="#fff" stroke="#000" stroke-width="1"/><circle cx="530.12" cy="328.9" r="3.4" fill="#fff" stroke="#000" stroke-width="1"/><path d="M530.12 340L534.73 348L525.52 348Z" fill="#000"/><rect x="526.33" y="340.8" width="7.6" height="7.2" fill="#000"/><circle cx="530.12" cy="377" r="3.6" fill="#000"/><path d="M526.23 385.5L534.02 385.5L530.12 392.4Z" fill="#fff" stroke="#000" stroke-width="1"/><rect x="546.62" y="299.2" width="7" height="7" fill="#fff" stroke="#000" stroke-width="1"/><circle cx="550.12" cy="328.2" r="3.4" fill="#fff" stroke="#000" stroke-width="1"/><path d="M550.12 340L554.72 348L545.52 348Z" fill="#000"/><rect x="546.32" y="340.8" width="7.6" height="7.2" fill="#000"/><circle cx="550.12" cy="377" r="3.6" fill="#000"/><path d="M546.22 385.5L554.02 385.5L550.12 392.4Z" fill="#fff" stroke="#000" stroke-width="1"/><rect x="566.61" y="299.2" width="7" height="7" fill="#fff" stroke="#000" stroke-width="1"/><circle cx="570.11" cy="328.2" r="3.4" fill="#fff" stroke="#000" stroke-width="1"/><path d="M570.11 340L574.71 348L565.51 348Z" fill="#000"/><rect x="566.31" y="340.8" width="7.6" height="7.2" fill="#000"/><circle cx="570.11" cy="377" r="3.6" fill="#000"/><path d="M566.21 385.5L574.01 385.5L570.11 392.4Z" fill="#fff" stroke="#000" stroke-width="1"/><rect x="586.6" y="309.9" width="7" height="7" fill="#fff" stroke="#000" stroke-width="1"/><circle cx="590.1" cy="328.2" r="3.4" fill="#fff" stroke="#000" stroke-width="1"/><path d="M590.1 340L594.7 348L585.5 348Z" fill="#000"/><rect x="586.3" y="340.8" width="7.6" height="7.2" fill="#000"/><path d="M586.2 375.1L594 375.1L590.1 382Z" fill="#fff" stroke="#000" stroke-width="1"/><circle cx="590.1" cy="387.4" r="3.6" fill="#000"/><path d="M350.2 249.3V410" fill="none" stroke="#000" stroke-width="1.3"/><path d="M349.55 409.3H590.6" fill="none" stroke="#111" stroke-width="1.6"/><path d="M350.2 393.21H352.4" stroke="#000" stroke-width="1"/><path d="M350.2 377.22H353.8" stroke="#000" stroke-width="1"/><path d="M350.2 361.23H352.4" stroke="#000" stroke-width="1"/><path d="M350.2 345.24H353.8" stroke="#000" stroke-width="1"/><path d="M350.2 329.25H352.4" stroke="#000" stroke-width="1"/><path d="M350.2 313.26H353.8" stroke="#000" stroke-width="1"/><path d="M350.2 297.27H352.4" stroke="#000" stroke-width="1"/><path d="M350.2 281.28H353.8" stroke="#000" stroke-width="1"/><path d="M350.2 265.29H352.4" stroke="#000" stroke-width="1"/><path d="M350.2 249.3H353.8" stroke="#000" stroke-width="1"/><path d="M370.19 409.2V407.8" stroke="#000" stroke-width="1"/><path d="M390.18 409.2V406.6" stroke="#000" stroke-width="1"/><path d="M410.18 409.2V407.8" stroke="#000" stroke-width="1"/><path d="M430.17 409.2V406.6" stroke="#000" stroke-width="1"/><path d="M450.16 409.2V407.8" stroke="#000" stroke-width="1"/><path d="M470.15 409.2V406.6" stroke="#000" stroke-width="1"/><path d="M490.14 409.2V407.8" stroke="#000" stroke-width="1"/><path d="M510.13 409.2V406.6" stroke="#000" stroke-width="1"/><path d="M530.12 409.2V407.8" stroke="#000" stroke-width="1"/><path d="M550.12 409.2V406.6" stroke="#000" stroke-width="1"/><path d="M570.11 409.2V407.8" stroke="#000" stroke-width="1"/><path d="M590.1 409.2V406.6" stroke="#000" stroke-width="1"/><rect x="192.6" y="449.2" width="223.6" height="45" fill="none" stroke="#6a6a6a" stroke-width="1"/><path d="M199.2 456.5H218.8" stroke="#000" stroke-width="1.2"/><g transform="translate(209.2 456.5) scale(1.12)"><circle cx="0" cy="0" r="3.4" fill="#fff" stroke="#000" stroke-width="1"/></g><text transform="translate(223 459.4) scale(1.0 1)" font-size="8.6" font-weight="bold" text-anchor="start" textLength="59.5" lengthAdjust="spacing">C1 Fruit waste</text><path d="M199.2 466.4H218.8" stroke="#000" stroke-width="1.2"/><g transform="translate(209.2 466.4) scale(1.12)"><rect x="-3.5" y="-3.5" width="7" height="7" fill="#fff" stroke="#000" stroke-width="1"/></g><text transform="translate(223 469.3) scale(1.0 1)" font-size="8.6" font-weight="bold" text-anchor="start" textLength="83.7" lengthAdjust="spacing">C2 Vegetable waste</text><path d="M199.2 476.4H218.8" stroke="#000" stroke-width="1.2"/><g transform="translate(209.2 476.4) scale(1.12)"><path d="M0 -4.1L4 3L-4 3Z" fill="#fff" stroke="#000" stroke-width="1"/></g><text transform="translate(223 479.3) scale(1.0 1)" font-size="8.6" font-weight="bold" text-anchor="start" textLength="42" lengthAdjust="spacing">C3 Leaves</text><path d="M323.4 457H343.8" stroke="#000" stroke-width="1.2"/><rect x="329.8" y="453.1" width="8" height="7.8" fill="#000"/><text transform="translate(347.4 460) scale(1.0 1)" font-size="8.6" font-weight="bold" text-anchor="start" textLength="29.5" lengthAdjust="spacing">C4 Hay</text><path d="M323.4 466.7H343.8" stroke="#000" stroke-width="1.2"/><path d="M333.4 462.7V470.7M330.4 464.5L333.4 466.7L330.4 468.9ZM336.4 464.5L333.4 466.7L336.4 468.9Z" stroke="#222" stroke-width="0.8" fill="#444"/><text transform="translate(347.4 469.7) scale(1.0 1)" font-size="8.6" font-weight="bold" text-anchor="start" textLength="37.7" lengthAdjust="spacing">C5 Paper</text><path d="M323.4 476.3H343.8" stroke="#000" stroke-width="1.2"/><path d="M333.4 470.5L339 476.3L333.4 482.1L327.8 476.3Z" fill="#000"/><text transform="translate(347.4 479.3) scale(1.0 1)" font-size="8.6" font-weight="bold" text-anchor="start" textLength="64.7" lengthAdjust="spacing">C6 Wheat straw</text><path d="M323.4 486.3H343.8" stroke="#000" stroke-width="1.2"/><path d="M329 482.3L337.8 490.3M329 490.3L337.8 482.3" stroke="#000" stroke-width="1"/><text transform="translate(347.4 489.3) scale(1.0 1)" font-size="8.6" font-weight="bold" text-anchor="start" textLength="34.8" lengthAdjust="spacing">C7 Husk</text></svg></body></html>
